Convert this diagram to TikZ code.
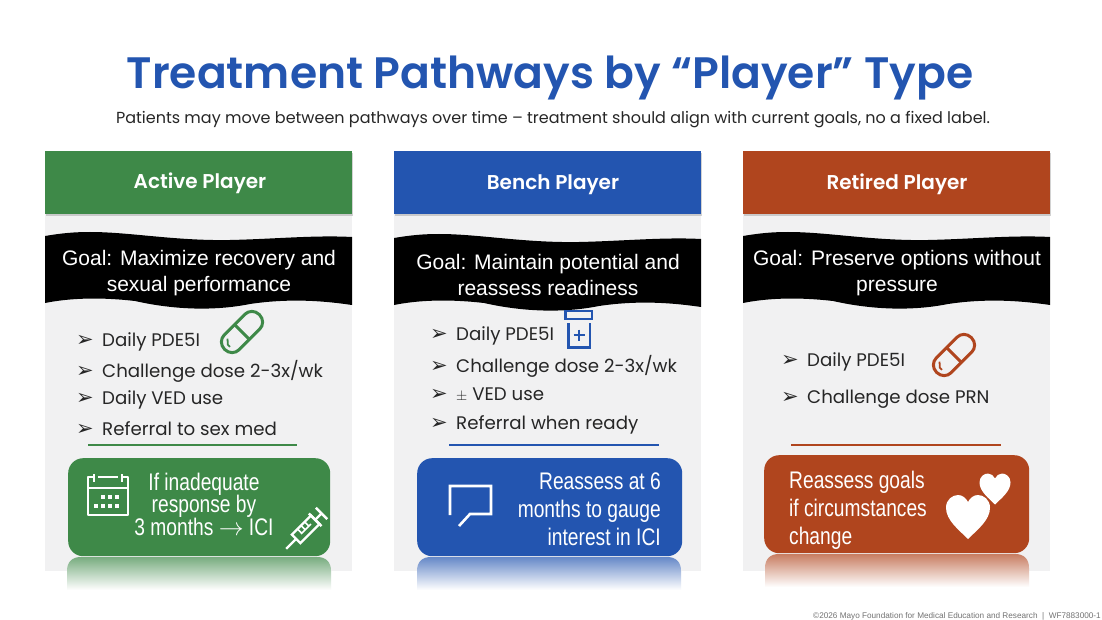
\documentclass[tikz,border=0pt]{standalone}
\usepackage{fontspec}
\setmainfont{Poppins}
\newfontfamily\semifont{Poppins SemiBold}
\newfontfamily\armfont{Liberation Sans}
\newfontfamily\narrowfont[FakeStretch=0.8]{Liberation Sans}
\newfontfamily\markfont{DejaVu Sans}
\usepackage{xcolor}
\usetikzlibrary{shadows}
\definecolor{activegreen}{HTML}{3E8948}
\definecolor{benchblue}{HTML}{2355B0}
\definecolor{retiredrust}{HTML}{B0451E}
\definecolor{panelgray}{HTML}{F1F1F2}
\newcommand{\pmark}{\makebox[26pt][l]{\markfont\fontsize{21}{21}\selectfont ➢}}

\begin{document}
\begin{tikzpicture}[
    x=1pt, y=-1pt,
    inner sep=0pt,
    panel/.style={fill=panelgray, draw=none},
    header/.style={minimum width=307pt, minimum height=63pt,
        drop shadow={opacity=0.35, shadow xshift=1pt, shadow yshift=-2pt}},
    headtext/.style={text=white, font=\semifont\fontsize{20}{24}\selectfont},
    goaltext/.style={text=white, align=center, font=\armfont\fontsize{21}{26}\selectfont},
    item/.style={anchor=west, text=black!85, font=\fontsize{18.2}{22}\selectfont},
    callout/.style={rounded corners=15pt, anchor=north west, minimum height=98pt, minimum width=#1},
    calltext/.style={text=white, font=\narrowfont\fontsize{24}{#1}\selectfont},
    iconline/.style={line width=2.4pt, line join=round},
    pics/pillicon/.style={code={
        \begin{scope}[rotate=45]
        \draw[#1, line width=3pt, rounded corners=10pt] (-24.5,-10.5) rectangle (24.5,10.5);
        \draw[#1, line width=3pt] (0,-10.5) -- (0,10.5);
        \draw[#1, line width=1.8pt] (-19,2) -- (-19,-1) -- (-15,-5.5);
        \end{scope}
    }},
    pics/reflectbar/.style={code={
        \shade[top color=#1!70!white, bottom color=white] (0,33) -- (0,14)
            .. controls (0,5) and (5,0) .. (14,0) -- (250,0)
            .. controls (259,0) and (264,5) .. (264,14) -- (264,33) -- cycle;
    }},
    pics/goalwave/.style={code={
        \fill[black] (0,4) .. controls (18,1) and (30,0) .. (45,0)
            .. controls (85,0) and (130,9) .. (185,8)
            .. controls (230,7) and (270,3) .. (307,5)
            -- (307,73) .. controls (280,69) and (245,66) .. (205,72)
            .. controls (170,79) and (130,78) .. (90,69)
            .. controls (55,65) and (25,66) .. (0,71) -- cycle;
    }},
    pics/heartshape/.style={code={
        \fill[white] (0,1) .. controls (-.4,.6) and (-1,.15) .. (-1,-.42)
            .. controls (-1,-.8) and (-.7,-1) .. (-.45,-1)
            .. controls (-.25,-1) and (-.08,-.85) .. (0,-.68)
            .. controls (.08,-.85) and (.25,-1) .. (.45,-1)
            .. controls (.7,-1) and (1,-.8) .. (1,-.42)
            .. controls (1,.15) and (.4,.6) .. (0,1) -- cycle;
    }}
]

\useasboundingbox (0,0) rectangle (1102,620);
\fill[white] (0,0) rectangle (1102,620);

% title
\node[text=benchblue, font=\semifont\fontsize{44}{54}\selectfont] (title) at (550,78) {Treatment Pathways by “Player” Type};
\node[text=black!85, font=\fontsize{16}{19}\selectfont] (subtitle) at (553,119.5) {Patients may move between pathways over time -- treatment should align with current goals, no a fixed label.};

% panels
\fill[panel] (45,210) rectangle (352,571);
\fill[panel] (394,210) rectangle (701,571);
\fill[panel] (743,210) rectangle (1050,571);

% reflections
\pic at (67,557) {reflectbar=activegreen};
\pic at (417,557) {reflectbar=benchblue};
\pic at (765,554) {reflectbar=retiredrust};

% headers
\node[header, fill=activegreen] (activehead) at (198.5,182.5) {};
\node[headtext] (activelabel) at (200,183) {Active Player};
\node[header, fill=benchblue] (benchhead) at (547.5,182.5) {};
\node[headtext] (benchlabel) at (553,185) {Bench Player};
\node[header, fill=retiredrust] (retiredhead) at (896.5,182.5) {};
\node[headtext] (retiredlabel) at (897,184) {Retired Player};

% goal banners
\pic at (45,232) {goalwave};
\pic at (394,234) {goalwave};
\pic at (743,232) {goalwave};
\node[goaltext] (activegoal) at (199,273) {Goal: Maximize recovery and\\sexual performance};
\node[goaltext] (benchgoal) at (548,275) {Goal: Maintain potential and\\reassess readiness};
\node[goaltext] (retiredgoal) at (897,273) {Goal: Preserve options without\\pressure};

% active list
\node[item] (active1) at (76,342) {\pmark Daily PDE5I};
\node[item] (active2) at (76,371) {\pmark Challenge dose 2-3x/wk};
\node[item] (active3) at (76,400) {\pmark Daily VED use};
\node[item] (active4) at (76,429) {\pmark Referral to sex med};
\pic at (242,332) {pillicon=activegreen};
\draw[activegreen, line width=1.5pt] (88,445) -- (297,445);

% bench list
\node[item] (bench1) at (430,336) {\pmark Daily PDE5I};
\node[item] (bench2) at (430,366) {\pmark Challenge dose 2-3x/wk};
\node[item] (bench3) at (430,395) {\pmark {\fontsize{14}{14}\selectfont$\pm$} VED use};
\node[item] (bench4) at (430,425) {\pmark Referral when ready};
\draw[benchblue, line width=2.6pt] (565.5,311) rectangle (592,319);
\draw[benchblue, line width=2.4pt] (568.5,323) -- (568.5,347.5) -- (590,347.5) -- (590,323);
\draw[benchblue, line width=2.4pt] (573.5,335) -- (584.5,335) (579,329.5) -- (579,340.5);
\draw[benchblue, line width=1.5pt] (449,445) -- (659,445);

% retired list
\node[item] (retired1) at (781,362) {\pmark Daily PDE5I};
\node[item] (retired2) at (781,399) {\pmark Challenge dose PRN};
\pic at (954,355) {pillicon=retiredrust};
\draw[retiredrust, line width=1.5pt] (791,445) -- (1001,445);

% callouts
\node[callout=262pt, fill=activegreen] (activebox) at (68,458) {};
\node[calltext=22.5, align=center] (activetext) at (204,504) {If inadequate\\response by\\3 months $\rightarrow$ ICI};
\node[callout=265pt, fill=benchblue] (benchbox) at (417,458) {};
\node[calltext=28, align=right, anchor=east] (benchtext) at (661,509) {Reassess at 6\\months to gauge\\interest in ICI};
\node[callout=265pt, fill=retiredrust] (retiredbox) at (764,455) {};
\node[calltext=28, align=left, anchor=west] (retiredtext) at (789,510) {Reassess goals\\if circumstances\\change};

% calendar icon
\draw[white, iconline] (88,477) rectangle (128,515);
\draw[white, iconline] (88,488) -- (128,488);
\draw[activegreen, line width=4pt] (95,477) -- (121,477);
\draw[white, iconline] (94,474) -- (94,482) (98,477) -- (118,477) (122,474) -- (122,482);
\foreach \xdot/\ydot in {103/497, 110/497, 117/497, 96/506, 103/506, 110/506, 117/506}
    \fill[white] (\xdot-1.8,\ydot-1.8) rectangle (\xdot+1.8,\ydot+1.8);

% syringe icon
\begin{scope}[shift={(306,529)}, rotate=45]
\draw[white, iconline, line join=miter] (-14,-6) rectangle (13,6);
\draw[white, iconline] (-28,0) -- (-14,0);
\draw[white, iconline] (13,0) -- (22,0) (22,-8) -- (22,8);
\draw[white, iconline] (13,-9) -- (13,9);
\draw[white, line width=1.6pt] (-7,0) -- (7,0) (-6,0) -- (-6,-6) (-1,0) -- (-1,-6) (4,0) -- (4,-6);
\end{scope}

% speech bubble icon
\draw[white, line width=2.6pt, line join=miter] (450,515) -- (450,486) -- (491,486) -- (491,514) -- (470,514) -- (459,526);

% hearts
\pic[scale=22] at (968,517) {heartshape};
\pic[scale=15.5] at (995,489) {heartshape};

% footer
\node[anchor=south east, text=black!55, font=\armfont\fontsize{8.2}{9}\selectfont] (footer) at (1101,620) {©2026 Mayo Foundation for Medical Education and Research \ | \ WF7883000-1};

\end{tikzpicture}
\end{document}
